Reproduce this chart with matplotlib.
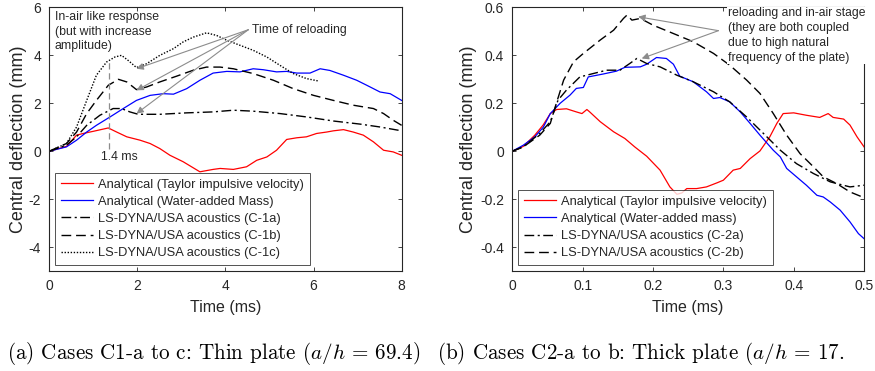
import matplotlib
matplotlib.use("Agg")
import matplotlib.pyplot as plt

# ---------------- data: panel (a) ----------------
t_red_a = [0, 0.39, 0.62, 0.77, 1.0, 1.34, 1.53, 1.76, 2.06, 2.29, 2.51, 2.74, 3.04, 3.23, 3.42,
           3.72, 3.88, 4.18, 4.48, 4.71, 4.94, 5.16, 5.39, 5.62, 5.84, 6.07, 6.30, 6.45, 6.68,
           6.9, 7.13, 7.36, 7.59, 7.81, 8.0]
v_red_a = [0, 0.2, 0.67, 0.74, 0.83, 0.97, 0.8, 0.6, 0.46, 0.32, 0.11, -0.17, -0.44, -0.65, -0.86,
           -0.76, -0.72, -0.76, -0.65, -0.38, -0.24, 0.04, 0.49, 0.56, 0.6, 0.74, 0.8, 0.85, 0.9,
           0.8, 0.67, 0.39, 0.04, -0.03, -0.17]

t_blue_a = [0, 0.39, 0.62, 0.85, 1.07, 1.38, 1.68, 1.98, 2.29, 2.59, 2.82, 3.12, 3.42, 3.72, 4.03,
            4.33, 4.63, 4.86, 5.16, 5.39, 5.62, 5.92, 6.15, 6.37, 6.68, 6.98, 7.21, 7.51, 7.74, 8.0]
v_blue_a = [0, 0.18, 0.46, 0.8, 1.08, 1.43, 1.78, 2.12, 2.33, 2.4, 2.38, 2.61, 2.96, 3.26, 3.33,
            3.31, 3.44, 3.4, 3.31, 3.33, 3.26, 3.26, 3.44, 3.37, 3.17, 2.96, 2.75, 2.47, 2.4, 2.12]

t_c1a = [0, 0.39, 0.62, 0.85, 1.15, 1.45, 1.64, 1.83, 2.02, 2.51, 3.12, 3.72, 4.18, 4.63, 5.24,
         5.84, 6.45, 7.06, 7.51, 8.0]
v_c1a = [0, 0.25, 0.6, 1.08, 1.5, 1.78, 1.78, 1.64, 1.54, 1.54, 1.6, 1.64, 1.71, 1.67, 1.57,
         1.43, 1.26, 1.13, 1.01, 0.85]

t_c1b = [0, 0.39, 0.62, 0.85, 1.07, 1.34, 1.57, 1.76, 1.98, 2.21, 2.51, 2.89, 3.27, 3.57, 3.88,
         4.18, 4.63, 5.09, 5.54, 6.0, 6.45, 6.9, 7.36, 7.59, 7.81, 8.0]
v_c1b = [0, 0.32, 0.8, 1.57, 2.12, 2.75, 3.0, 2.89, 2.57, 2.68, 2.89, 3.13, 3.38, 3.51, 3.51,
         3.44, 3.24, 2.96, 2.61, 2.33, 2.12, 1.92, 1.78, 1.57, 1.29, 1.08]

t_c1c = [0, 0.39, 0.62, 0.85, 1.07, 1.30, 1.49, 1.64, 1.79, 1.98, 2.21, 2.51, 2.82, 3.04, 3.27,
         3.57, 3.8, 4.03, 4.33, 4.63, 4.94, 5.24, 5.54, 5.84, 6.11]
v_c1c = [0, 0.32, 1.01, 2.12, 3.17, 3.72, 3.93, 4.0, 3.79, 3.49, 3.65, 4.0, 4.28, 4.56, 4.76,
         4.94, 4.83, 4.63, 4.42, 4.21, 3.93, 3.58, 3.24, 3.03, 2.93]

# ---------------- data: panel (b) ----------------
t_red_b = [0, 0.0156, 0.032, 0.044, 0.054, 0.063, 0.077, 0.091, 0.099, 0.106, 0.110, 0.125, 0.144,
           0.160, 0.174, 0.191, 0.210, 0.224, 0.234, 0.241, 0.248, 0.262, 0.276, 0.291, 0.300,
           0.314, 0.324, 0.338, 0.352, 0.366, 0.376, 0.385, 0.400, 0.418, 0.437, 0.449, 0.456,
           0.471, 0.480, 0.490, 0.500]
v_red_b = [0, 0.02, 0.067, 0.11, 0.157, 0.174, 0.177, 0.164, 0.157, 0.174, 0.164, 0.123, 0.081,
           0.053, 0.018, -0.021, -0.079, -0.149, -0.18, -0.174, -0.156, -0.156, -0.149, -0.132,
           -0.121, -0.079, -0.072, -0.031, 0.001, 0.06, 0.116, 0.157, 0.16, 0.15, 0.141, 0.157,
           0.141, 0.134, 0.109, 0.06, 0.018]

t_blue_b = [0, 0.0156, 0.032, 0.044, 0.054, 0.068, 0.082, 0.091, 0.101, 0.108, 0.129, 0.148, 0.160,
            0.182, 0.191, 0.205, 0.219, 0.229, 0.238, 0.257, 0.276, 0.286, 0.295, 0.309, 0.324,
            0.338, 0.352, 0.371, 0.381, 0.390, 0.404, 0.418, 0.433, 0.442, 0.452, 0.466, 0.480,
            0.492, 0.500]
v_blue_b = [0, 0.025, 0.06, 0.10, 0.157, 0.2, 0.234, 0.262, 0.266, 0.31, 0.322, 0.334, 0.35,
            0.352, 0.363, 0.391, 0.387, 0.363, 0.313, 0.29, 0.248, 0.22, 0.224, 0.206, 0.164,
            0.116, 0.067, 0.004, -0.024, -0.072, -0.107, -0.142, -0.184, -0.191, -0.212, -0.246,
            -0.295, -0.344, -0.365]

t_c2a = [0, 0.0156, 0.039, 0.054, 0.065, 0.077, 0.096, 0.115, 0.134, 0.153, 0.167, 0.177, 0.191,
         0.210, 0.234, 0.257, 0.286, 0.309, 0.333, 0.357, 0.381, 0.404, 0.428, 0.452, 0.480, 0.500]
v_c2a = [0, 0.018, 0.074, 0.123, 0.213, 0.255, 0.31, 0.324, 0.338, 0.338, 0.366, 0.387, 0.366,
         0.352, 0.317, 0.29, 0.248, 0.206, 0.143, 0.074, 0.004, -0.052, -0.093, -0.128, -0.149,
         -0.142]

t_c2b = [0, 0.0156, 0.039, 0.054, 0.061, 0.073, 0.087, 0.101, 0.125, 0.144, 0.158, 0.163, 0.170,
         0.182, 0.200, 0.229, 0.257, 0.286, 0.309, 0.333, 0.352, 0.371, 0.390, 0.409, 0.428,
         0.442, 0.461, 0.480, 0.500]
v_c2b = [0, 0.018, 0.067, 0.116, 0.185, 0.297, 0.373, 0.408, 0.464, 0.505, 0.554, 0.568, 0.547,
         0.554, 0.526, 0.491, 0.457, 0.408, 0.359, 0.297, 0.241, 0.157, 0.067, -0.01, -0.065,
         -0.107, -0.135, -0.17, -0.194]

xticks_a = [0, 2, 4, 6, 8]
yticks_a = [-4, -2, 0, 2, 4, 6]
xticks_b = [0, 0.1, 0.2, 0.3, 0.4, 0.5]
yticks_b = [-0.4, -0.2, 0, 0.2, 0.4, 0.6]

labels_a = ["Analytical (Taylor impulsive velocity)", "Analytical (Water-added Mass)",
            "LS-DYNA/USA acoustics (C-1a)", "LS-DYNA/USA acoustics (C-1b)",
            "LS-DYNA/USA acoustics (C-1c)"]
labels_b = ["Analytical (Taylor impulsive velocity)", "Analytical (Water-added mass)",
            "LS-DYNA/USA acoustics (C-2a)", "LS-DYNA/USA acoustics (C-2b)"]

caption_a = r"(a) Cases C1-a to c: Thin plate ($a/h$ = 69.4)"
caption_b = r"(b) Cases C2-a to b: Thick plate ($a/h$ = 17."

# ---------------- style ----------------
plt.rcParams['font.family'] = ['Liberation Sans', 'DejaVu Sans']
plt.rcParams['mathtext.fontset'] = 'cm'
plt.rcParams['axes.unicode_minus'] = False

FRAME = '#262626'
TXT = '#262626'

fig = plt.figure(figsize=(8.75, 3.71), dpi=100)
axa = fig.add_axes([0.0563, 0.2695, 0.4027, 0.7105])
axb = fig.add_axes([0.5855, 0.2695, 0.4020, 0.7105])

def style(ax, xt, yt, xl, yl, ylab_x):
    ax.set_xlim(*xl)
    ax.set_ylim(*yl)
    ax.set_xticks(xt)
    ax.set_yticks(yt)
    ax.set_xticklabels([f"{v:g}" for v in xt])
    ax.set_yticklabels([f"{v:g}" for v in yt])
    ax.tick_params(direction='in', length=3, width=0.6, colors=FRAME, labelcolor=TXT,
                   labelsize=10, top=True, right=True, pad=6)
    for s in ax.spines.values():
        s.set_color(FRAME)
        s.set_linewidth(0.8)
    ax.set_xlabel("Time (ms)", fontsize=11.5, color=TXT, labelpad=5)
    ax.set_ylabel("Central deflection (mm)", fontsize=13, color=TXT, va='center')
    ax.yaxis.set_label_coords(ylab_x, 0.5)

style(axa, xticks_a, yticks_a, (0, 8), (-5, 6), -0.086)
style(axb, xticks_b, yticks_b, (0, 0.5), (-0.5, 0.6), -0.125)

lw = 0.9
DASHDOT = (0, (7, 2.5, 1.5, 2.5))
DASH = (0, (7, 3.5))
DOT = (0, (1, 1.2))
axa.plot(t_red_a, v_red_a, color='#ff0000', lw=lw, label=labels_a[0])
axa.plot(t_blue_a, v_blue_a, color='#0000ff', lw=lw, label=labels_a[1])
axa.plot(t_c1a, v_c1a, color='k', lw=1.0, ls=DASHDOT, label=labels_a[2])
axa.plot(t_c1b, v_c1b, color='k', lw=1.0, ls=DASH, label=labels_a[3])
axa.plot(t_c1c, v_c1c, color='k', lw=1.0, ls=DOT, label=labels_a[4])

axb.plot(t_red_b, v_red_b, color='#ff0000', lw=lw, label=labels_b[0])
axb.plot(t_blue_b, v_blue_b, color='#0000ff', lw=lw, label=labels_b[1])
axb.plot(t_c2a, v_c2a, color='k', lw=1.0, ls=DASHDOT, label=labels_b[2])
axb.plot(t_c2b, v_c2b, color='k', lw=1.0, ls=DASH, label=labels_b[3])

for ax in (axa, axb):
    leg = ax.legend(loc='lower left', fontsize=9.3, frameon=True, fancybox=False,
                    handlelength=2.5, handletextpad=0.4, borderpad=0.45, labelspacing=0.4,
                    borderaxespad=0.45)
    leg.get_frame().set_edgecolor(FRAME)
    leg.get_frame().set_linewidth(0.7)
    for tx in leg.get_texts():
        tx.set_color(TXT)

# annotations panel (a)
GR = '#8c8c8c'
axa.plot([1.36, 1.36], [0.1, 3.75], color=GR, lw=0.9, ls=(0, (5, 3)))
axa.text(1.6, -0.25, "1.4 ms", ha='center', va='center', fontsize=8.8, color=TXT)
axa.text(0.12, 5.85, "In-air like response\n(but with increase\namplitude)", ha='left', va='top',
         fontsize=8.8, color=TXT, linespacing=1.3)
axa.text(4.6, 5.07, "Time of reloading", ha='left', va='center', fontsize=8.8, color=TXT)
for (x, y) in [(1.98, 3.44), (1.98, 2.54), (1.98, 1.57)]:
    axa.annotate("", xy=(x, y), xytext=(4.52, 5.07),
                 arrowprops=dict(arrowstyle='-|>', color=GR, lw=0.8, mutation_scale=10,
                                 shrinkA=0, shrinkB=0))

# annotations panel (b)
axb.text(0.306, 0.6, "reloading and in-air stage\n(they are both coupled\ndue to high natural\nfrequency of the plate)",
         ha='left', va='top', fontsize=8.7, color=TXT, linespacing=1.3,
         bbox=dict(facecolor='white', edgecolor='none', pad=0.5), zorder=5)
for (x, y) in [(0.179, 0.561), (0.184, 0.387)]:
    axb.annotate("", xy=(x, y), xytext=(0.293, 0.503),
                 arrowprops=dict(arrowstyle='-|>', color=GR, lw=0.8, mutation_scale=10,
                                 shrinkA=0, shrinkB=0))

# captions
fig.text(0.008, 0.048, caption_a, fontsize=15.2, family=['cmr10'],
         ha='left', va='center', color='k')
fig.text(0.4994, 0.048, caption_b, fontsize=15.2, family=['cmr10'],
         ha='left', va='center', color='k')

fig.savefig("out.png", dpi=100)
